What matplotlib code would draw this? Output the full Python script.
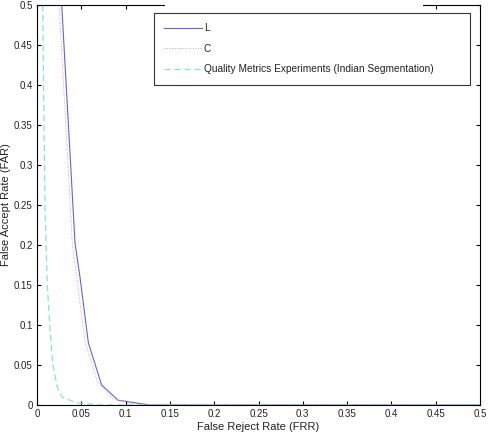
import matplotlib
matplotlib.use("Agg")
import matplotlib.pyplot as plt
from matplotlib.patches import Rectangle

plt.rcParams['font.family'] = ['Liberation Sans', 'DejaVu Sans']

# curve data (FRR, FAR)
frr_a = [0.0279, 0.0429, 0.0485, 0.058, 0.073, 0.0915, 0.127, 0.5]
far_a = [0.50, 0.2025, 0.160, 0.0775, 0.025, 0.006, 0.0, 0.0]

frr_b = [0.025, 0.040, 0.046, 0.054, 0.068, 0.085, 0.11, 0.5]
far_b = [0.50, 0.20, 0.15, 0.08, 0.03, 0.008, 0.001, 0.0]

frr_c = [0.0064, 0.009, 0.0116, 0.015, 0.018, 0.023, 0.028, 0.045, 0.07, 0.5]
far_c = [0.50, 0.25, 0.15, 0.09, 0.05, 0.022, 0.01, 0.0025, 0.0, 0.0]

labels = ["L", "C", "Quality Metrics Experiments (Indian Segmentation)"]
ticks = [0, 0.05, 0.1, 0.15, 0.2, 0.25, 0.3, 0.35, 0.4, 0.45, 0.5]
tick_labels = ["0", "0.05", "0.1", "0.15", "0.2", "0.25", "0.3", "0.35", "0.4", "0.45", "0.5"]

fig = plt.figure(figsize=(4.88, 4.36), dpi=100)
ax = fig.add_axes([37 / 488, 31 / 436, 443 / 488, 400 / 436])

ax.plot(frr_a, far_a, '-', color='#6464d4', lw=0.8, label=labels[0])
ax.plot(frr_b, far_b, ':', color='#e89a9a', lw=0.7, label=labels[1])
ax.plot(frr_c, far_c, '--', color='#80e4e4', lw=0.9, dashes=(5, 3), label=labels[2])

ax.set_xlim(0, 0.5)
ax.set_ylim(0, 0.5)
ax.set_xticks(ticks)
ax.set_xticklabels(tick_labels)
ax.set_yticks(ticks)
ax.set_yticklabels(tick_labels)
ax.tick_params(direction='in', top=True, right=True, length=3, width=0.8,
               labelsize=7, pad=3, labelcolor='#222222')
for sp in ax.spines.values():
    sp.set_linewidth(0.8)

ax.set_xlabel("False Reject Rate (FRR)", fontsize=8, labelpad=2, color='#222222')
ax.set_ylabel("False Accept Rate (FAR)", fontsize=8, labelpad=2, color='#222222')

leg = ax.legend(loc='upper left', bbox_to_anchor=(0.264, 0.80, 0.713, 0.18),
                mode='expand', fontsize=7.3, frameon=True, fancybox=False,
                borderpad=1.0, labelspacing=1.05, handlelength=3.7,
                handletextpad=0.2, borderaxespad=0)
leg.get_frame().set_edgecolor('black')
leg.get_frame().set_linewidth(0.8)
for t in leg.get_texts():
    t.set_color('#222222')

# white patch hiding part of the top border, as in the scan
fig.patches.append(Rectangle((165 / 488, 1 - 12 / 436), (423 - 165) / 488, 12 / 436,
                             transform=fig.transFigure, facecolor='white',
                             edgecolor='none', zorder=10))

fig.savefig("out.png", dpi=100)
